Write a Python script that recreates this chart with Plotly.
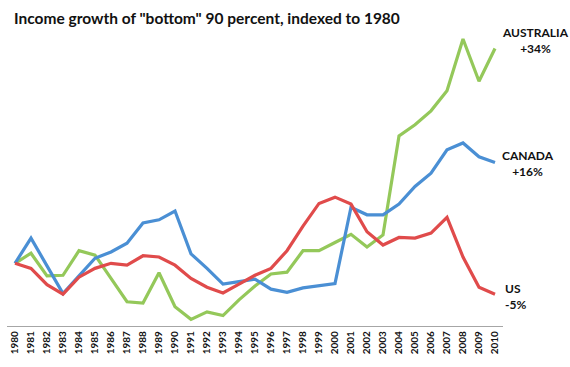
import plotly.graph_objects as go

years = list(range(1980, 2011))
tick_labels = [str(y) for y in years]

canada = [100.0, 104.0, 99.6, 95.2, 98.0, 100.8, 101.8, 103.2, 106.4, 106.9,
          108.3, 101.5, 99.2, 96.7, 97.1, 97.5, 95.9, 95.4, 96.1, 96.5,
          96.8, 108.9, 107.7, 107.7, 109.4, 112.2, 114.3, 118.0, 119.1, 116.9, 116.0]
us = [100.0, 99.2, 96.6, 95.1, 97.8, 99.2, 100.0, 99.7, 101.2, 101.0,
      99.7, 97.6, 96.2, 95.3, 96.7, 98.1, 99.2, 102.0, 105.9, 109.5,
      110.5, 109.4, 105.0, 102.9, 104.1, 104.0, 104.8, 107.3, 101.0, 96.2, 95.1]
australia = [100.0, 101.6, 98.0, 98.1, 102.0, 101.3, 97.6, 93.9, 93.7, 98.5,
             93.1, 91.1, 92.3, 91.7, 94.2, 96.4, 98.3, 98.6, 102.0, 102.0,
             103.3, 104.6, 102.6, 104.5, 120.2, 122.0, 124.2, 127.4, 135.6, 128.9, 134.1]

series_names = ["CANADA", "US", "AUSTRALIA"]
series_changes = ["+16%", "-5%", "+34%"]
colors = {"CANADA": "#4a8fd4", "US": "#e04b4b", "AUSTRALIA": "#94c85a"}

fig = go.Figure()
for name, vals in [("AUSTRALIA", australia), ("CANADA", canada), ("US", us)]:
    fig.add_trace(go.Scatter(x=years, y=vals, mode="lines", name=name,
                             line=dict(color=colors[name], width=3.2),
                             showlegend=False))

lbl_font = dict(family="Lato, Open Sans, sans-serif", size=12, color="#111111")
fig.add_annotation(x=2010, y=australia[-1], xref="x", yref="y",
                   text="<b>AUSTRALIA</b><br><b>+34%</b>", showarrow=False,
                   xanchor="center", yanchor="middle", xshift=40, yshift=8,
                   font=lbl_font, align="center")
fig.add_annotation(x=2010, y=canada[-1], xref="x", yref="y",
                   text="<b>CANADA</b><br><b>+16%</b>", showarrow=False,
                   xanchor="center", yanchor="middle", xshift=33, yshift=-1,
                   font=lbl_font, align="center")
fig.add_annotation(x=2010, y=us[-1], xref="x", yref="y",
                   text="<b>US</b><br><b>-5%</b>", showarrow=False,
                   xanchor="left", yanchor="middle", xshift=8, yshift=-2,
                   font=lbl_font, align="left")

fig.update_layout(
    width=570, height=367,
    margin=dict(l=7, r=67, t=30, b=41),
    paper_bgcolor="white", plot_bgcolor="white",
    title=dict(text="<b>Income growth of \"bottom\" 90 percent, indexed to 1980</b>",
               x=14 / 570, xanchor="left", y=1 - 19 / 367, yanchor="middle",
               font=dict(family="Lato, Open Sans, sans-serif", size=15.5, color="#111111")),
    xaxis=dict(range=[1979.5, 2010.5], tickmode="array", tickvals=years,
               ticktext=["<b>%s</b>" % t for t in tick_labels], tickangle=-90,
               showgrid=False, zeroline=False, showline=True, linecolor="#a6a6a6",
               linewidth=1.3, ticks="", ticklen=0, automargin=False,
               tickfont=dict(family="Lato, Open Sans, sans-serif", size=10, color="#111111")),
    yaxis=dict(range=[90.05, 137.03], visible=False, showgrid=False, zeroline=False,
               automargin=False),
)

fig.write_html("out.html", config={"displayModeBar": False},
               post_script="document.body.style.margin='0';document.body.style.padding='0';")
